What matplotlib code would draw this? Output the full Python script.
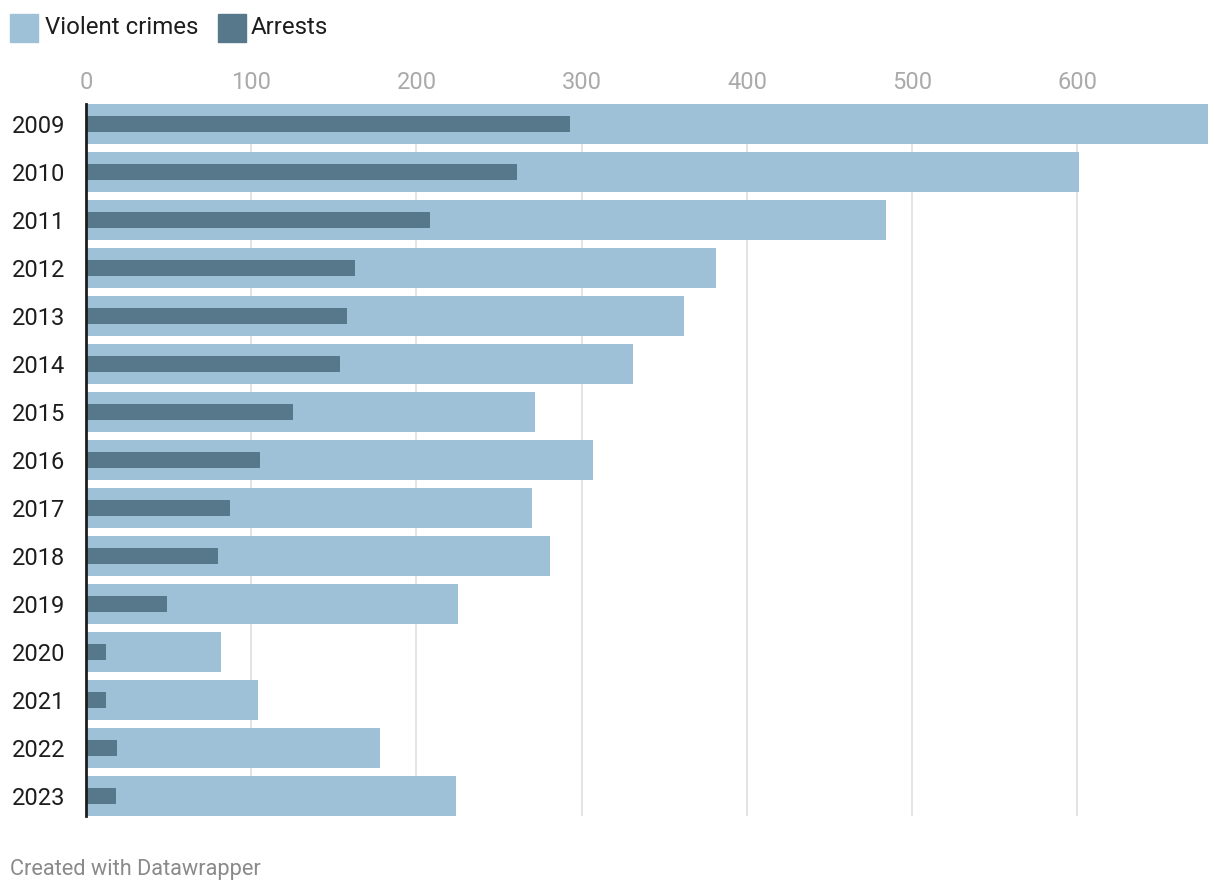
import matplotlib.pyplot as plt
import matplotlib.patches as mpatches
import numpy as np

plt.rcParams['font.family'] = ['Roboto', 'DejaVu Sans']

# Data
years = ['2009', '2010', '2011', '2012', '2013', '2014', '2015', '2016',
         '2017', '2018', '2019', '2020', '2021', '2022', '2023']
violent = [679, 601, 484, 381, 362, 331, 272, 307, 270, 281, 225, 82, 104, 178, 224]
arrests = [293, 261, 208, 163, 158, 154, 125, 105, 87, 80, 49, 12, 12, 19, 18]
xticks = [0, 100, 200, 300, 400, 500, 600]

light = '#9fc1d7'
dark = '#57788b'

W, H = 1220, 894
fig = plt.figure(figsize=(W / 100, H / 100), dpi=100)
ax = fig.add_axes([86 / W, 1 - 816 / H, (1208 - 86) / W, (816 - 104) / H])

y = np.arange(len(years))
ax.barh(y, violent, height=40 / 48, color=light, zorder=2)
ax.barh(y, arrests, height=16 / 48, color=dark, zorder=3)

ax.set_xlim(0, max(violent))
ax.set_ylim(len(years) - 1 + 20 / 48, -20 / 48)

ax.set_xticks(xticks)
ax.xaxis.tick_top()
ax.tick_params(axis='x', length=0, pad=7.5, labelsize=17, labelcolor='#aaaaaa')
ax.set_yticks(y)
ax.set_yticklabels(years)
# left-aligned year labels starting near the figure edge
ax.tick_params(axis='y', length=0, pad=53.3, labelsize=17, labelcolor='#1d1d1d')
for lab in ax.get_yticklabels():
    lab.set_horizontalalignment('left')

ax.grid(axis='x', color='#e2e2e2', linewidth=1.3, zorder=0)
for s in ['top', 'right', 'bottom']:
    ax.spines[s].set_visible(False)
ax.spines['left'].set_color('#1d1d1d')
ax.spines['left'].set_linewidth(2)
ax.spines['left'].set_zorder(4)

# legend drawn by hand, Datawrapper style
fig.patches.append(mpatches.Rectangle((10 / W, 1 - 42 / H), 28 / W, 28 / H,
                                      color=light, transform=fig.transFigure))
fig.text(45 / W, 1 - 27 / H, 'Violent crimes', fontsize=17.3, color='#1d1d1d', va='center')
fig.patches.append(mpatches.Rectangle((218 / W, 1 - 42 / H), 28 / W, 28 / H,
                                      color=dark, transform=fig.transFigure))
fig.text(251 / W, 1 - 27 / H, 'Arrests', fontsize=17.3, color='#1d1d1d', va='center')

fig.text(10 / W, 1 - 869 / H, 'Created with Datawrapper', fontsize=15.7, color='#8a8a8a', va='center')

fig.savefig('out.png', dpi=100, facecolor='white')
